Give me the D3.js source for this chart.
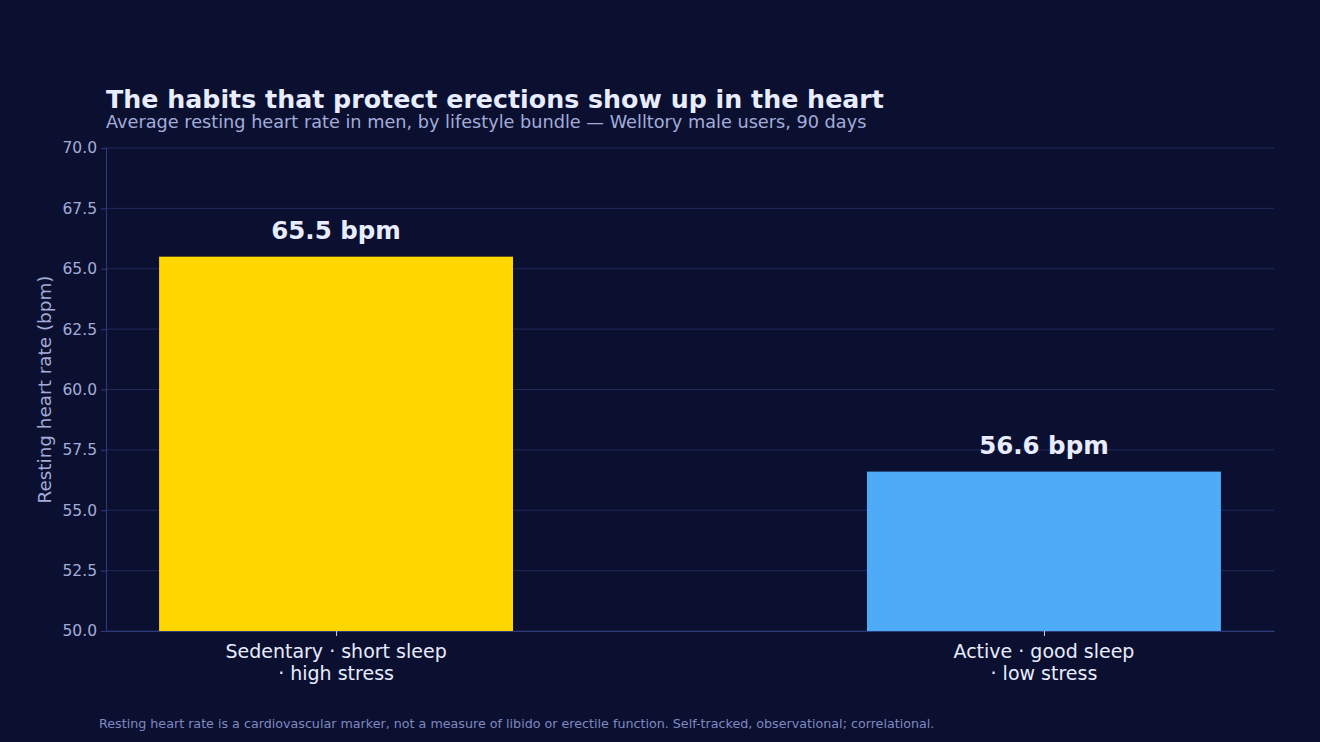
<!DOCTYPE html>
<html>
<head>
<meta charset="utf-8">
<script src="https://cdn.jsdelivr.net/npm/d3@7"></script>
<style>
  html, body { margin: 0; padding: 0; background: #0b1030; }
  svg { display: block; font-family: "DejaVu Sans", sans-serif; }
</style>
</head>
<body>
<svg id="chart" width="1320" height="742"></svg>
<script>
// data
const categories = ['Sedentary · short sleep\n· high stress', 'Active · good sleep\n· low stress'];
const values = [65.5, 56.6];
const barColors = ['#ffd600', '#4dabf7'];
const yTicks = [50, 52.5, 55, 57.5, 60, 62.5, 65, 67.5, 70];

const W = 1320, H = 742;
const margin = { left: 106, right: 46, top: 148, bottom: 111 };
const plotW = W - margin.left - margin.right;
const plotH = H - margin.top - margin.bottom;

const svg = d3.select('#chart');
svg.append('rect').attr('width', W).attr('height', H).attr('fill', '#0b1030');

// x as linear over category index, matplotlib-like padding
const x = d3.scaleLinear().domain([-0.325, 1.325]).range([margin.left, margin.left + plotW]);
const y = d3.scaleLinear().domain([50, 70]).range([margin.top + plotH, margin.top]);
const barW = x(0.5) - x(0);

// grid
svg.append('g')
  .selectAll('line')
  .data(yTicks)
  .join('line')
  .attr('x1', margin.left).attr('x2', margin.left + plotW)
  .attr('y1', d => y(d)).attr('y2', d => y(d))
  .attr('stroke', '#1f2a5c').attr('stroke-width', 1);

// bars
svg.append('g')
  .selectAll('rect')
  .data(values)
  .join('rect')
  .attr('x', (d, i) => x(i) - barW / 2)
  .attr('width', barW)
  .attr('y', d => y(d))
  .attr('height', d => y(50) - y(d))
  .attr('fill', (d, i) => barColors[i]);

// value labels
svg.append('g')
  .selectAll('text')
  .data(values)
  .join('text')
  .attr('x', (d, i) => x(i))
  .attr('y', d => y(d) - 18)
  .attr('text-anchor', 'middle')
  .attr('fill', '#e8ecff')
  .attr('font-size', 24.5)
  .attr('font-weight', 'bold')
  .text(d => d.toFixed(1) + ' bpm');

// y axis
const yAxis = svg.append('g')
  .attr('transform', `translate(${margin.left},0)`)
  .call(d3.axisLeft(y).tickValues(yTicks).tickFormat(d3.format('.1f')).tickSize(5).tickPadding(4));
yAxis.select('.domain').attr('stroke', '#2e3a7a');
yAxis.selectAll('.tick line').attr('stroke', '#2e3a7a');
yAxis.selectAll('.tick text').attr('fill', '#a3acd9').attr('font-size', 15.5)
  .attr('font-family', '"DejaVu Sans", sans-serif');

// x axis
const xAxis = svg.append('g')
  .attr('transform', `translate(0,${margin.top + plotH})`)
  .call(d3.axisBottom(x).tickValues([0, 1]).tickFormat('').tickSize(5).tickSizeOuter(0));
xAxis.select('.domain').attr('stroke', '#2e3a7a');
xAxis.selectAll('.tick line').attr('stroke', '#c9cfee');

svg.append('g')
  .selectAll('text')
  .data(categories)
  .join('text')
  .attr('text-anchor', 'middle')
  .attr('fill', '#e8ecff')
  .attr('font-size', 19)
  .each(function (d, i) {
    const t = d3.select(this);
    d.split('\n').forEach((line, j) => {
      t.append('tspan').attr('x', x(i)).attr('y', 658 + j * 22).text(line);
    });
  });

// y label
svg.append('text')
  .attr('transform', `translate(51,${margin.top + plotH / 2}) rotate(-90)`)
  .attr('text-anchor', 'middle')
  .attr('fill', '#a3acd9')
  .attr('font-size', 18.4)
  .text('Resting heart rate (bpm)');

// title + subtitle
svg.append('text')
  .attr('x', 106).attr('y', 108)
  .attr('fill', '#e8ecff').attr('font-size', 25.3).attr('font-weight', 'bold')
  .text('The habits that protect erections show up in the heart');
svg.append('text')
  .attr('x', 106).attr('y', 128)
  .attr('fill', '#a3acd9').attr('font-size', 17.7)
  .text('Average resting heart rate in men, by lifestyle bundle — Welltory male users, 90 days');

// footer
svg.append('text')
  .attr('x', 99).attr('y', 728)
  .attr('fill', '#7f89c0').attr('font-size', 12.7)
  .text('Resting heart rate is a cardiovascular marker, not a measure of libido or erectile function. Self-tracked, observational; correlational.');
</script>
</body>
</html>
